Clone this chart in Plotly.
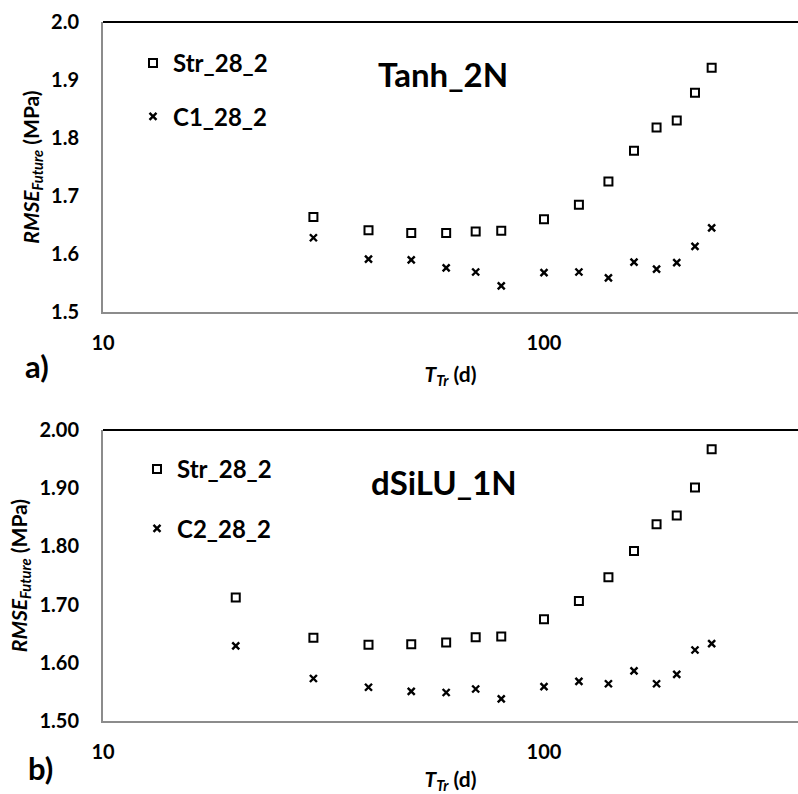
import plotly.graph_objects as go
from plotly.subplots import make_subplots

# ---- data ----
t_top = [30, 40, 50, 60, 70, 80, 100, 120, 140, 160, 180, 200, 220, 240]
str_top = [1.664, 1.641, 1.636, 1.636, 1.639, 1.640, 1.660, 1.685, 1.725, 1.778, 1.818, 1.830, 1.878, 1.921]
c1_top = [1.628, 1.591, 1.590, 1.576, 1.569, 1.545, 1.568, 1.569, 1.559, 1.586, 1.574, 1.585, 1.613, 1.645]

t_bot = [20, 30, 40, 50, 60, 70, 80, 100, 120, 140, 160, 180, 200, 220, 240]
str_bot = [1.712, 1.643, 1.631, 1.632, 1.635, 1.644, 1.645, 1.675, 1.706, 1.747, 1.792, 1.838, 1.853, 1.901, 1.967]
c2_bot = [1.629, 1.573, 1.558, 1.551, 1.549, 1.555, 1.538, 1.559, 1.568, 1.564, 1.586, 1.564, 1.580, 1.622, 1.633]

x_ticks = [10, 100]
x_tick_text = ["10", "100"]

FONT = "Lato"
BLACK = "#000000"
AXIS_GREY = "#8c8c8c"

fig = make_subplots(rows=2, cols=1, vertical_spacing=0.0)

sq = dict(symbol="square-open", size=8, color=BLACK, line=dict(width=2, color=BLACK))
cr = dict(symbol="x-thin-open", size=7, color=BLACK, line=dict(width=2.4, color=BLACK))

fig.add_trace(go.Scatter(x=t_top, y=str_top, mode="markers", marker=sq, name="Str_28_2",
                         legend="legend", legendgroup="a1"), row=1, col=1)
fig.add_trace(go.Scatter(x=t_top, y=c1_top, mode="markers", marker=cr, name="C1_28_2",
                         legend="legend", legendgroup="a2"), row=1, col=1)
fig.add_trace(go.Scatter(x=t_bot, y=str_bot, mode="markers", marker=sq, name="Str_28_2",
                         legend="legend2", legendgroup="b1"), row=2, col=1)
fig.add_trace(go.Scatter(x=t_bot, y=c2_bot, mode="markers", marker=cr, name="C2_28_2",
                         legend="legend2", legendgroup="b2"), row=2, col=1)

W, H = 798, 794
ML, MR, MT, MB = 103, 0, 22, 73
ph = H - MT - MB

def py(pix):
    return (H - MB - pix) / ph

def px(pix):
    return (pix - ML) / (W - ML)

top_dom = [py(312), py(22)]
bot_dom = [py(721), py(430)]

tickfont = dict(family=FONT, size=20, color=BLACK, weight="bold")
titlefont = dict(family=FONT, size=21, color=BLACK, weight="bold")

xcommon = dict(type="log", range=[1, 2.576], tickvals=x_ticks, ticktext=x_tick_text,
               showgrid=False, zeroline=False, showline=True, linecolor=AXIS_GREY, linewidth=2,
               ticks="", ticklabelstandoff=12, tickfont=tickfont,
               title=dict(text="<i>T</i><sub><i>Tr</i></sub> (d)", font=titlefont, standoff=14))
fig.update_xaxes(**xcommon, row=1, col=1)
fig.update_xaxes(**xcommon, row=2, col=1)
fig.update_yaxes(domain=top_dom, row=1, col=1)
fig.update_yaxes(domain=bot_dom, row=2, col=1)

ycommon = dict(range=[1.5, 2.0], dtick=0.1, showgrid=False, zeroline=False, showline=True,
               linecolor=AXIS_GREY, linewidth=2, ticks="", ticklabelstandoff=18, tickfont=tickfont,
               title=dict(text="<i>RMSE</i><sub><i>Future</i></sub> (MPa)", font=titlefont, standoff=6))
fig.update_yaxes(**ycommon, tickformat=".1f", row=1, col=1)
fig.update_yaxes(**ycommon, tickformat=".2f", row=2, col=1)

# top border lines
for xr, yr in [("x domain", "y domain"), ("x2 domain", "y2 domain")]:
    fig.add_shape(type="line", xref=xr, yref=yr, x0=0, x1=1, y0=1, y1=1,
                  line=dict(color=BLACK, width=2))

def label(text, x, y, size):
    return dict(text=text, xref="paper", yref="paper", x=px(x), y=py(y),
                xanchor="center", yanchor="middle", showarrow=False,
                font=dict(family=FONT, size=size, color=BLACK, weight="bold"))

ann = [
    label("Tanh_2N", 443, 74, 33),
    label("dSiLU_1N", 444, 482, 33),
    label("a)", 37, 366, 31),
    label("b)", 40, 768, 31),
]

legfont = dict(family=FONT, size=24, color=BLACK, weight="bold")
fig.update_layout(
    width=W, height=H,
    margin=dict(l=ML, r=MR, t=MT, b=MB),
    paper_bgcolor="white", plot_bgcolor="white",
    showlegend=True,
    legend=dict(x=px(133), y=py(41), xanchor="left", yanchor="top",
                font=legfont, tracegroupgap=19, bgcolor="rgba(0,0,0,0)"),
    legend2=dict(x=px(137), y=py(447), xanchor="left", yanchor="top",
                 font=legfont, tracegroupgap=25, bgcolor="rgba(0,0,0,0)"),
    annotations=ann,
)

fig.write_html("out.html")
